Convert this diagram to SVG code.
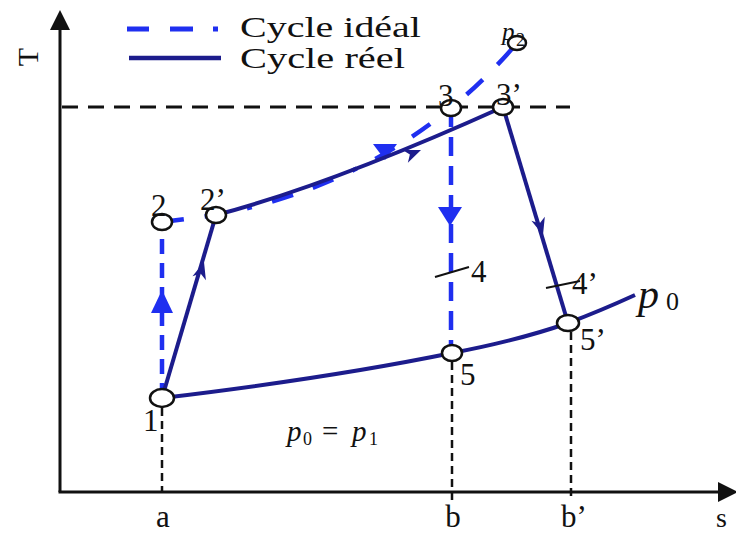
<svg xmlns="http://www.w3.org/2000/svg" width="736" height="536" viewBox="0 0 736 536">
<style>
.lbl{font-family:"Liberation Serif",serif;font-size:31px;fill:#111}
.it{font-family:"Liberation Serif",serif;font-style:italic;font-size:30px;fill:#111}
.ideal{fill:none;stroke:#1f2ff0;stroke-width:4.5}
.real{fill:none;stroke:#1c1c8c;stroke-width:4}
.pt{fill:#fff;stroke:#111;stroke-width:2.5}
.guide{fill:none;stroke:#111;stroke-width:2.5}
</style>
<rect width="736" height="536" fill="#fff"/>
<g id="axes">
<line x1="60" y1="492" x2="60" y2="26" stroke="#111" stroke-width="3"/>
<polygon points="60,10 50,30 70,30" fill="#111"/>
<line x1="58.5" y1="492" x2="720" y2="492" stroke="#111" stroke-width="3"/>
<polygon points="738,492 718,482 718,502" fill="#111"/>
<text class="lbl" x="0" y="0" style="font-size:30px" transform="translate(38,57) rotate(-90)" text-anchor="middle">T</text>
<text class="lbl" x="716" y="527" style="font-size:28px">s</text>
<text class="lbl" x="163" y="527" text-anchor="middle">a</text>
<text class="lbl" x="453" y="527" text-anchor="middle">b</text>
<text class="lbl" x="574" y="527" text-anchor="middle">b’</text>
</g>
<g id="legend">
<line x1="127" y1="29" x2="218" y2="29" stroke="#1f2ff0" stroke-width="5" stroke-dasharray="22,21,23,20,5,30"/>
<line x1="129" y1="58" x2="221" y2="58" stroke="#1c1c8c" stroke-width="4.5"/>
<text class="lbl" x="240" y="37" style="font-size:29px" textLength="181" lengthAdjust="spacingAndGlyphs">Cycle idéal</text>
<text class="lbl" x="240" y="68" style="font-size:29px" textLength="165" lengthAdjust="spacingAndGlyphs">Cycle réel</text>
</g>
<g id="guides">
<line class="guide" x1="62" y1="107" x2="570" y2="107" style="stroke-dasharray:16,10;stroke-width:2.8"/>
<line class="guide" x1="162" y1="408" x2="162" y2="492" style="stroke-dasharray:8,5"/>
<line class="guide" x1="452" y1="362" x2="452" y2="505" style="stroke-dasharray:8,5"/>
<line class="guide" x1="571" y1="332" x2="571" y2="500" style="stroke-dasharray:8,5"/>
</g>
<g id="connectors">
<path class="ideal" d="M162,398 L162,222" stroke-dasharray="15,9"/>
<path class="ideal" d="M451,108 L451,353" stroke-dasharray="19,10"/>
<path class="ideal" d="M162,222 L216,215 Q400,180 517,43" stroke-dasharray="22,21,22,21,5,21"/>
<polygon points="162,290 151,313 173,313" fill="#1f2ff0"/>
<polygon points="438,207 462,207 450,226" fill="#1f2ff0"/>
<polygon points="373,144 397,144 385,160" fill="#1f2ff0"/>
<path class="real" d="M162,398 L216,215"/>
<path class="real" d="M216,215 Q330,185 503,107"/>
<path class="real" d="M503,107 L568,323"/>
<path class="real" d="M162,398 Q330,378 452,353 Q520,340 568,323 Q600,311 635,295"/>
<polygon points="0,0 -17,-7 -12,0 -17,7" fill="#1c1c8c" transform="translate(204,262) rotate(-73.6)"/>
<polygon points="0,0 -17,-7 -12,0 -17,7" fill="#1c1c8c" transform="translate(421,150) rotate(-22)"/>
<polygon points="0,0 -17,-7 -12,0 -17,7" fill="#1c1c8c" transform="translate(543,235) rotate(73.3)"/>
<line x1="435" y1="277" x2="469" y2="267" stroke="#111" stroke-width="2"/>
<line x1="546" y1="288" x2="580" y2="281" stroke="#111" stroke-width="2"/>
</g>
<g id="n1"><ellipse class="pt" cx="162" cy="398" rx="12" ry="9"/><text class="lbl" x="143" y="431">1</text></g>
<g id="n2"><ellipse class="pt" cx="162" cy="222" rx="10" ry="8"/><text class="lbl" x="151" y="216">2</text></g>
<g id="n2p"><ellipse class="pt" cx="216" cy="215" rx="10" ry="8"/><text class="lbl" x="200" y="210">2’</text></g>
<g id="n3"><ellipse class="pt" cx="451" cy="108" rx="10" ry="8"/><text class="lbl" x="438" y="106">3</text></g>
<g id="n3p"><ellipse class="pt" cx="503" cy="107" rx="10" ry="8"/><text class="lbl" x="496" y="105">3’</text></g>
<g id="np2"><ellipse class="pt" cx="517" cy="43" rx="9" ry="7"/><text class="it" x="502" y="40" style="font-size:25px">p</text><text class="lbl" x="516" y="46" style="font-size:18px">2</text></g>
<g id="n4"><text class="lbl" x="471" y="282">4</text></g>
<g id="n4p"><text class="lbl" x="572" y="294">4’</text></g>
<g id="n5"><ellipse class="pt" cx="452" cy="353" rx="10" ry="8"/><text class="lbl" x="460" y="385">5</text></g>
<g id="n5p"><ellipse class="pt" cx="568" cy="323" rx="11" ry="8"/><text class="lbl" x="580" y="350">5’</text></g>
<g id="np0"><text class="it" x="638" y="308" style="font-size:42px">p</text><text class="lbl" x="666" y="310" style="font-size:26px">0</text></g>
<g id="eq"><text class="it" x="287" y="441" style="font-size:29px">p</text><text class="lbl" x="303" y="445" style="font-size:18px">0</text><text class="lbl" x="322" y="441" style="font-size:29px">=</text><text class="it" x="352" y="441" style="font-size:29px">p</text><text class="lbl" x="369" y="445" style="font-size:18px">1</text></g>
</svg>
